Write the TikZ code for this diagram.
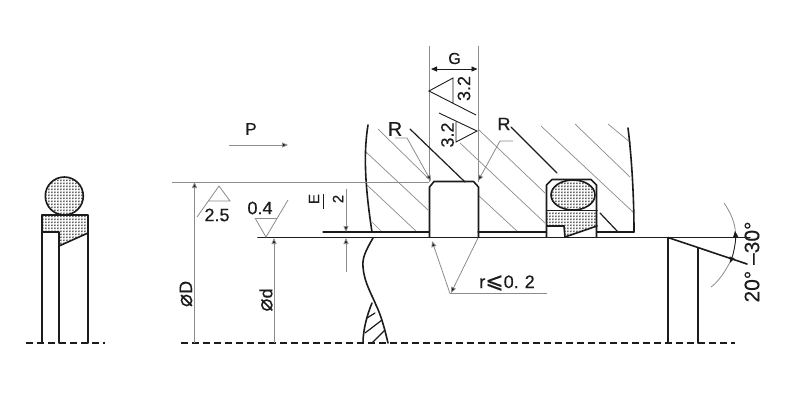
\documentclass[tikz,border=0pt]{standalone}
\usepackage{fontspec}
\setmainfont{Liberation Sans}[FakeBold=0.35]
\newfontfamily\djv{DejaVu Sans}[FakeBold=0.2]
\usetikzlibrary{patterns,arrows.meta}
\definecolor{ln}{HTML}{1C1C1C}
\definecolor{gl}{HTML}{8C8C8C}
\pgfdeclarepatternformonly{checker}{\pgfqpoint{0pt}{0pt}}{\pgfqpoint{1.5pt}{1.5pt}}{\pgfqpoint{3pt}{3pt}}{%
  \pgfpathrectangle{\pgfqpoint{0pt}{0pt}}{\pgfqpoint{1.5pt}{1.5pt}}%
  \pgfpathrectangle{\pgfqpoint{1.5pt}{1.5pt}}{\pgfqpoint{1.5pt}{1.5pt}}%
  \pgfusepath{fill}}
\tikzset{
  thick line/.style={draw=ln,line width=1.6pt,line cap=round,line join=round},
  mid line/.style={draw=ln,line width=1.2pt,line cap=round},
  thin line/.style={draw=gl,line width=0.8pt},
  sym line/.style={draw=ln,line width=0.9pt},
  hatch/.style={draw=gl,line width=0.7pt},
  dimtip/.style={-{Triangle[length=6pt,width=5pt,fill=ln]}},
  center dash/.style={draw=ln,line width=1.5pt,dash pattern=on 7pt off 4pt},
  seal/.style={pattern=checker,pattern color=black!62,draw=none},
  lab/.style={inner sep=0pt,text=ln,font=\fontsize{18}{18}\selectfont}
}
\begin{document}
\begin{tikzpicture}[x=1pt,y=-1pt]
\useasboundingbox (0,0) rectangle (800,400);
\fill[white] (0,0) rectangle (800,400);

% ---- left free seal
\fill[seal] (64.3,196) circle (19);
\fill[seal] (42,215) -- (88,215) -- (88,233) -- (59,246) -- (59,232) -- (42,232) -- cycle;
\draw[thick line] (64.3,196) circle (19);
\draw[thick line] (42,343) -- (42,215) -- (88,215) -- (88,343);
\draw[thick line] (42,232) -- (59,232) -- (59,343);
\draw[thick line] (59,246) -- (88,233);
\draw[center dash] (26,343) -- (105,343);

% ---- centre line
\draw[center dash] (181,343) -- (735,343);

% ---- hatching of the housing
\foreach \a/\b/\c/\d in {378/129/428/178,366/152/428/210,367/185/417/232,372/222/382/232,
  478/129/545/193,460/143/545/223,478/195/518/232,541/126/633/212,575/124/630/177,608/124/631/143}
  \draw[hatch] (\a,\b) -- (\c,\d);
\draw[mid line] (600,213) -- (618,232);

% ---- housing break lines
\draw[thick line] (368,125) .. controls (364,150) and (364,180) .. (372,232);
\draw[thick line] (628,128) .. controls (632,160) and (634,200) .. (634,232);
\draw[thick line] (373,238) .. controls (366,250) and (362,258) .. (363,267) .. controls (364,282) and (372,295) .. (376,305) .. controls (381,315) and (385,330) .. (388,343);
\draw[thick line] (372,303) .. controls (367,315) and (363,330) .. (363,343);
\draw[mid line] (367,318) -- (375,313);
\draw[mid line] (365,333) -- (382,320);
\draw[mid line] (372,343) -- (385,330);

% ---- shaft and faces
\draw[mid line] (323,232) -- (429,232);
\draw[mid line] (478,232) -- (546,232);
\draw[mid line] (597,232) -- (634,232);
\draw[thick line] (258,237.5) -- (668,237.5);
\draw[mid line] (668,237.5) -- (750,237.5);

% ---- slot
\draw[thick line] (429.5,237) -- (429.5,187) -- (434,181.5) -- (473.5,181.5) -- (478.5,187) -- (478.5,237);

% ---- groove with seal
\fill[seal] (573,195) ellipse (22 and 15);
\fill[seal] (547,211) -- (597,211) -- (597,226) -- (565,237) -- (564,226) -- (547,226) -- cycle;
\draw[thick line] (546.5,237) -- (546.5,185) -- (552,179.5) -- (591,179.5) -- (596.5,185) -- (596.5,237);
\draw[thick line] (573,195) ellipse (22 and 15);
\draw[thick line] (547,210.5) -- (597,210.5);
\draw[thick line] (547,226) -- (564,226) -- (565,237);
\draw[thick line] (565,237) -- (597,226);

% ---- roughness / G block
\draw[thin line] (429.5,46) -- (429.5,182);
\draw[thin line] (478.5,46) -- (478.5,182);
\draw[sym line,{Triangle[length=6pt,width=5pt,fill=ln]}-{Triangle[length=6pt,width=5pt,fill=ln]}] (431,69) -- (477.5,69);
\node[lab,font=\fontsize{16}{16}\selectfont] (gtext) at (454.5,58.5) {G};
\draw[sym line] (453,103) -- (453,78) -- (429,91) -- (476,115);
\node[lab,rotate=90] (rone) at (464,88.5) {3.2};
\draw[sym line] (439,113) -- (477,131) -- (456,142) -- (456,122);
\node[lab,rotate=90] (rtwo) at (447.5,135) {3.2};

% ---- R labels
\node[lab,font=\fontsize{20}{20}\selectfont] (rl) at (395,129) {R};
\node[lab,font=\fontsize{18}{18}\selectfont] (rr) at (504,124) {R};
\draw[thin line,dimtip] (395,138) -- (407,138) -- (431,181);
\draw[thin line,dimtip] (513,141) -- (500,141) -- (478,181);
\draw[mid line] (410,129) -- (465,182);
\draw[mid line] (511,127) -- (557,173);

% ---- left dimensions
\node[lab,font=\fontsize{17}{17}\selectfont] (ptext) at (251,129) {P};
\draw[thin line,dimtip] (229,145) -- (288,145);
\draw[thin line] (172,182) -- (429,182);
\draw[thin line,dimtip] (194.5,343) -- (194.5,182);
\node[lab,rotate=90] (dD) at (186,294) {{\djv\fontsize{22}{22}\selectfont ⌀}D};
\draw[thin line] (197,217) -- (219,186) -- (230,201) -- (208,201);
\node[lab] (rt) at (217,215) {2.5};
\node[lab] (rz) at (260,208) {0.4};
\draw[thin line] (255,218) -- (277,218);
\draw[thin line] (255,218) -- (266,237) -- (288,200);
\draw[thin line,dimtip] (274,343) -- (274,238);
\node[lab,rotate=90] (dd) at (266,300) {{\djv\fontsize{22}{22}\selectfont ⌀}d};

% ---- E/2
\node[lab,rotate=90,font=\fontsize{15}{15}\selectfont] (ee) at (314,199) {E};
\draw[sym line] (323,194) -- (323,209);
\node[lab,rotate=90,font=\fontsize{15}{15}\selectfont] (two) at (338,199) {2};
\draw[thin line,dimtip] (346,189) -- (346,232);
\draw[thin line,dimtip] (346,272) -- (346,238);

% ---- r leader
\draw[thin line] (547,293.5) -- (450,293.5);
\draw[thin line,dimtip] (450,293.5) -- (432,241);
\draw[thin line,dimtip] (478,238) -- (451,293);
\node[lab,font=\fontsize{18}{18}\selectfont] (rtext) at (507,283) {r{\djv\fontsize{22}{22}\selectfont ⩽}0.\hspace{6pt}2};

% ---- chamfer on the right
\draw[thick line] (668,237.5) -- (747,264);
\draw[thick line] (668,238) -- (668,343);
\draw[thick line] (698,248) -- (698,343);
\draw[thin line] (724,203) .. controls (731,213) and (735,223) .. (735.5,233);
\draw[thin line] (730,262) .. controls (725,272) and (718,282) .. (711,287);
\draw[sym line,{Triangle[length=6pt,width=5pt,fill=ln]}-{Triangle[length=6pt,width=5pt,fill=ln]}] (735,231) .. controls (736,240) and (734,252) .. (730,263);
\node[lab,rotate=90,font=\fontsize{21}{21}\selectfont] (ang) at (752,262) {20° –30°};
\end{tikzpicture}
\end{document}
